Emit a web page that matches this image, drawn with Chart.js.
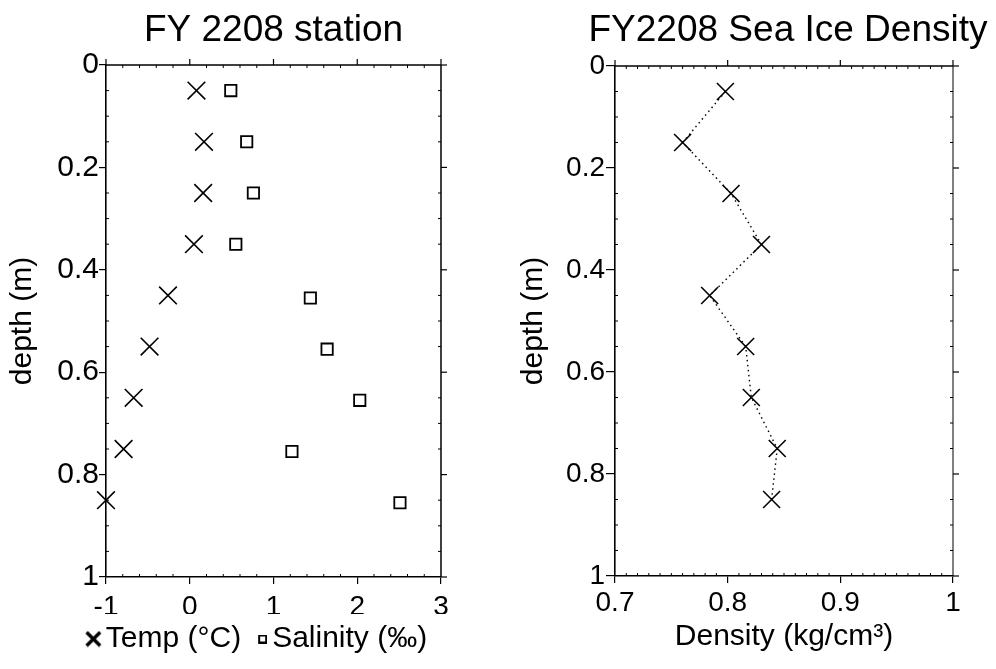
<!DOCTYPE html>
<html>
<head>
<meta charset="utf-8">
<script src="https://cdn.jsdelivr.net/npm/chart.js@4/dist/chart.umd.min.js"></script>
<style>
  html, body { margin: 0; padding: 0; background: #fff; }
  body { width: 996px; height: 669px; position: relative; overflow: hidden; }
  .panel { position: absolute; top: 0; height: 669px; }
  #leftPanel { left: 0; width: 512px; }
  #rightPanel { left: 498px; width: 580px; }
</style>
</head>
<body>
<div class="panel" id="leftPanel"><canvas id="leftChart" width="512" height="669"></canvas></div>
<div class="panel" id="rightPanel"><canvas id="rightChart" width="580" height="669"></canvas></div>
<script>
// ---------------- data ----------------
const tempDepths = [0.05, 0.15, 0.25, 0.35, 0.45, 0.55, 0.65, 0.75, 0.85];
const tempValues = [0.08, 0.17, 0.16, 0.05, -0.26, -0.48, -0.67, -0.79, -1.0];
const salinityDepths = [0.05, 0.15, 0.25, 0.35, 0.455, 0.555, 0.655, 0.755, 0.855];
const salinityValues = [0.49, 0.68, 0.76, 0.55, 1.44, 1.64, 2.03, 1.22, 2.51];
const densityDepths = [0.05, 0.15, 0.25, 0.35, 0.45, 0.55, 0.65, 0.75, 0.85];
const densityValues = [0.798, 0.760, 0.803, 0.830, 0.784, 0.816, 0.821, 0.844, 0.839];

const depthTicks = [0, 0.2, 0.4, 0.6, 0.8, 1];
const depthTickLabels = ['0', '0.2', '0.4', '0.6', '0.8', '1'];
const leftXTicks = [-1, 0, 1, 2, 3];
const leftXTickLabels = ['-1', '0', '1', '2', '3'];
const densityTicks = [0.7, 0.8, 0.9, 1];
const densityTickLabels = ['0.7', '0.8', '0.9', '1'];

const leftTitle = 'FY 2208 station';
const rightTitle = 'FY2208 Sea Ice Density';
const depthAxisTitle = 'depth (m)';
const densityAxisTitle = 'Density (kg/cm\u00B3)';
const tempLabel = 'Temp (\u00B0C)';
const salinityLabel = 'Salinity (\u2030)';

// ---------------- styling helpers ----------------
const FONT = "'Liberation Sans', Arial, Helvetica, sans-serif";
Chart.defaults.color = '#000';
Chart.defaults.font.family = FONT;

function minorValues(min, max, step, majors) {
  const out = [];
  const n = Math.round((max - min) / step);
  for (let i = 0; i <= n; i++) {
    const v = min + i * step;
    if (!majors.some(m => Math.abs(m - v) < step / 10)) out.push(v);
  }
  return out;
}

const frameTicks = {
  id: 'frameTicks',
  afterDraw(chart, args, opts) {
    const { ctx, chartArea: { left, right, top, bottom }, scales: { x, y } } = chart;
    ctx.save();
    ctx.strokeStyle = '#000';
    ctx.lineCap = 'butt';
    const line = (x1, y1, x2, y2) => { ctx.beginPath(); ctx.moveTo(x1, y1); ctx.lineTo(x2, y2); ctx.stroke(); };
    ctx.lineWidth = 1.5;
    line(left, top, right, top);
    ctx.lineWidth = opts.rightWidth || 1.5;
    line(right, top, right, bottom);
    ctx.lineWidth = 1.2;
    x.ticks.forEach(t => { const p = x.getPixelForValue(t.value); line(p, top, p, top - 6); });
    y.ticks.forEach(t => { const p = y.getPixelForValue(t.value); line(right, p, right + 6, p); });
    ctx.lineWidth = 1;
    opts.xMinor.forEach(v => { const p = x.getPixelForValue(v); line(p, top, p, top + 3); line(p, bottom, p, bottom - 3); });
    opts.yMinor.forEach(v => { const p = y.getPixelForValue(v); line(left, p, left + 3, p); line(right, p, right - 3, p); });
    ctx.restore();
  }
};

// legend glyphs: glyph sits at the right end of a wider transparent canvas
function makeCrossIcon(canvasW, size, lw) {
  const c = document.createElement('canvas');
  c.width = canvasW; c.height = size;
  const g = c.getContext('2d');
  g.strokeStyle = '#000'; g.lineWidth = lw; g.lineCap = 'butt';
  const x0 = canvasW - size;
  const a = lw / 2, b = size - lw / 2;
  g.beginPath(); g.moveTo(x0 + a, a); g.lineTo(x0 + b, b); g.moveTo(x0 + b, a); g.lineTo(x0 + a, b); g.stroke();
  return c;
}
function makeSquareIcon(canvasW, size, lw) {
  const c = document.createElement('canvas');
  c.width = canvasW; c.height = size;
  const g = c.getContext('2d');
  g.strokeStyle = '#000'; g.lineWidth = lw;
  g.strokeRect(canvasW - size + lw / 2, lw / 2, size - lw, size - lw);
  return c;
}
const crossIcon = makeCrossIcon(28, 17, 3.4);
const squareIcon = makeSquareIcon(26, 9, 2);

function fixedTicks(values) {
  return function (scale) { scale.ticks = values.map(v => ({ value: v })); };
}
function tickText(labels) {
  return function (value, index) { return labels[index]; };
}
const dummyAxis = (w) => ({
  type: 'linear', position: 'right', display: true,
  afterFit(scale) { scale.width = w; },
  grid: { display: false, drawTicks: false },
  border: { display: false },
  ticks: { display: false }
});

// ---------------- left chart ----------------
new Chart(document.getElementById('leftChart'), {
  type: 'scatter',
  data: {
    datasets: [
      {
        label: tempLabel,
        data: tempValues.map((v, i) => ({ x: v, y: tempDepths[i] })),
        pointStyle: 'crossRot',
        pointRadius: 12.5,
        pointHoverRadius: 12.5,
        borderColor: '#000',
        backgroundColor: '#000',
        pointBorderWidth: 1.6,
        clip: false
      },
      {
        label: salinityLabel,
        data: salinityValues.map((v, i) => ({ x: v, y: salinityDepths[i] })),
        pointStyle: 'rect',
        pointRadius: 8,
        pointHoverRadius: 8,
        borderColor: '#000',
        backgroundColor: 'rgba(0,0,0,0)',
        pointBorderWidth: 1.8,
        clip: false
      }
    ]
  },
  options: {
    responsive: false,
    animation: false,
    devicePixelRatio: 1,
    layout: { padding: { left: 0, right: 0, top: 0, bottom: 5 } },
    plugins: {
      title: {
        display: true, text: leftTitle, fullSize: false, color: '#000',
        font: { size: 37, weight: 'normal', family: FONT },
        padding: { top: 9, bottom: 11.6 }
      },
      legend: {
        display: true, position: 'bottom', fullSize: true, align: 'center',
        labels: {
          usePointStyle: true, boxWidth: 6, boxHeight: 17, padding: 10, color: '#000',
          font: { size: 30, family: FONT },
          generateLabels(chart) {
            const items = Chart.defaults.plugins.legend.labels.generateLabels(chart);
            items[0].pointStyle = crossIcon;
            items[1].pointStyle = squareIcon;
            return items;
          }
        },
        onClick: null
      },
      tooltip: { enabled: false },
      frameTicks: {
        xMinor: minorValues(-1, 3, 0.2, leftXTicks),
        yMinor: minorValues(0, 1, 0.05, depthTicks)
      }
    },
    scales: {
      x: {
        type: 'linear', position: 'bottom', min: -1, max: 3,
        afterBuildTicks: fixedTicks(leftXTicks),
        afterFit(scale) { scale.height = 37; },
        grid: { display: true, drawOnChartArea: false, drawTicks: true, tickLength: 7, color: '#000', lineWidth: 1.2 },
        border: { display: true, color: '#000', width: 1.6 },
        ticks: { color: '#000', font: { size: 28, family: FONT }, padding: 6, maxRotation: 0, callback: tickText(leftXTickLabels) }
      },
      y: {
        type: 'linear', position: 'left', min: 0, max: 1, reverse: true,
        afterBuildTicks: fixedTicks(depthTicks),
        afterFit(scale) { scale.width = 106; },
        grid: { display: true, drawOnChartArea: false, drawTicks: true, tickLength: 7, color: '#000', lineWidth: 1.2 },
        border: { display: true, color: '#000', width: 1.6 },
        ticks: { color: '#000', font: { size: 30, family: FONT }, padding: 0, callback: tickText(depthTickLabels) },
        title: { display: true, text: depthAxisTitle, color: '#000', font: { size: 30, family: FONT }, padding: { top: 5, bottom: 0 } }
      },
      spacer: dummyAxis(71)
    }
  },
  plugins: [frameTicks]
});

// ---------------- right chart ----------------
new Chart(document.getElementById('rightChart'), {
  type: 'scatter',
  data: {
    datasets: [
      {
        label: 'Density',
        data: densityValues.map((v, i) => ({ x: v, y: densityDepths[i] })),
        showLine: true,
        borderColor: '#000',
        backgroundColor: '#000',
        borderWidth: 1.4,
        borderDash: [1.5, 3.5],
        pointStyle: 'crossRot',
        pointRadius: 12,
        pointHoverRadius: 12,
        pointBorderWidth: 1.6,
        clip: false
      }
    ]
  },
  options: {
    responsive: false,
    animation: false,
    devicePixelRatio: 1,
    layout: { padding: { left: 0, right: 0, top: 0, bottom: 0 } },
    plugins: {
      title: {
        display: true, text: rightTitle, fullSize: true, color: '#000',
        font: { size: 37, weight: 'normal', family: FONT },
        padding: { top: 9, bottom: 12.6 }
      },
      legend: { display: false },
      tooltip: { enabled: false },
      frameTicks: {
        xMinor: minorValues(0.7, 1, 0.01, densityTicks),
        yMinor: minorValues(0, 1, 0.05, depthTicks),
        rightWidth: 1
      }
    },
    scales: {
      x: {
        type: 'linear', position: 'bottom', min: 0.7, max: 1,
        afterBuildTicks: fixedTicks(densityTicks),
        afterFit(scale) { scale.height = 93; },
        grid: { display: true, drawOnChartArea: false, drawTicks: true, tickLength: 7, color: '#000', lineWidth: 1.2 },
        border: { display: true, color: '#000', width: 1.6 },
        ticks: { color: '#000', font: { size: 28, family: FONT }, padding: 3, maxRotation: 0, callback: tickText(densityTickLabels) },
        title: { display: true, text: densityAxisTitle, color: '#000', font: { size: 30, family: FONT }, padding: { top: 0, bottom: 14 } }
      },
      y: {
        type: 'linear', position: 'left', min: 0, max: 1, reverse: true,
        afterBuildTicks: fixedTicks(depthTicks),
        afterFit(scale) { scale.width = 117; },
        grid: { display: true, drawOnChartArea: false, drawTicks: true, tickLength: 9, color: '#000', lineWidth: 1.2 },
        border: { display: true, color: '#000', width: 1.6 },
        ticks: { color: '#000', font: { size: 28, family: FONT }, padding: 1, callback: tickText(depthTickLabels) },
        title: { display: true, text: depthAxisTitle, color: '#000', font: { size: 30, family: FONT }, padding: { top: 18, bottom: 0 } }
      },
      spacer: dummyAxis(125)
    }
  },
  plugins: [frameTicks]
});
</script>
</body>
</html>
